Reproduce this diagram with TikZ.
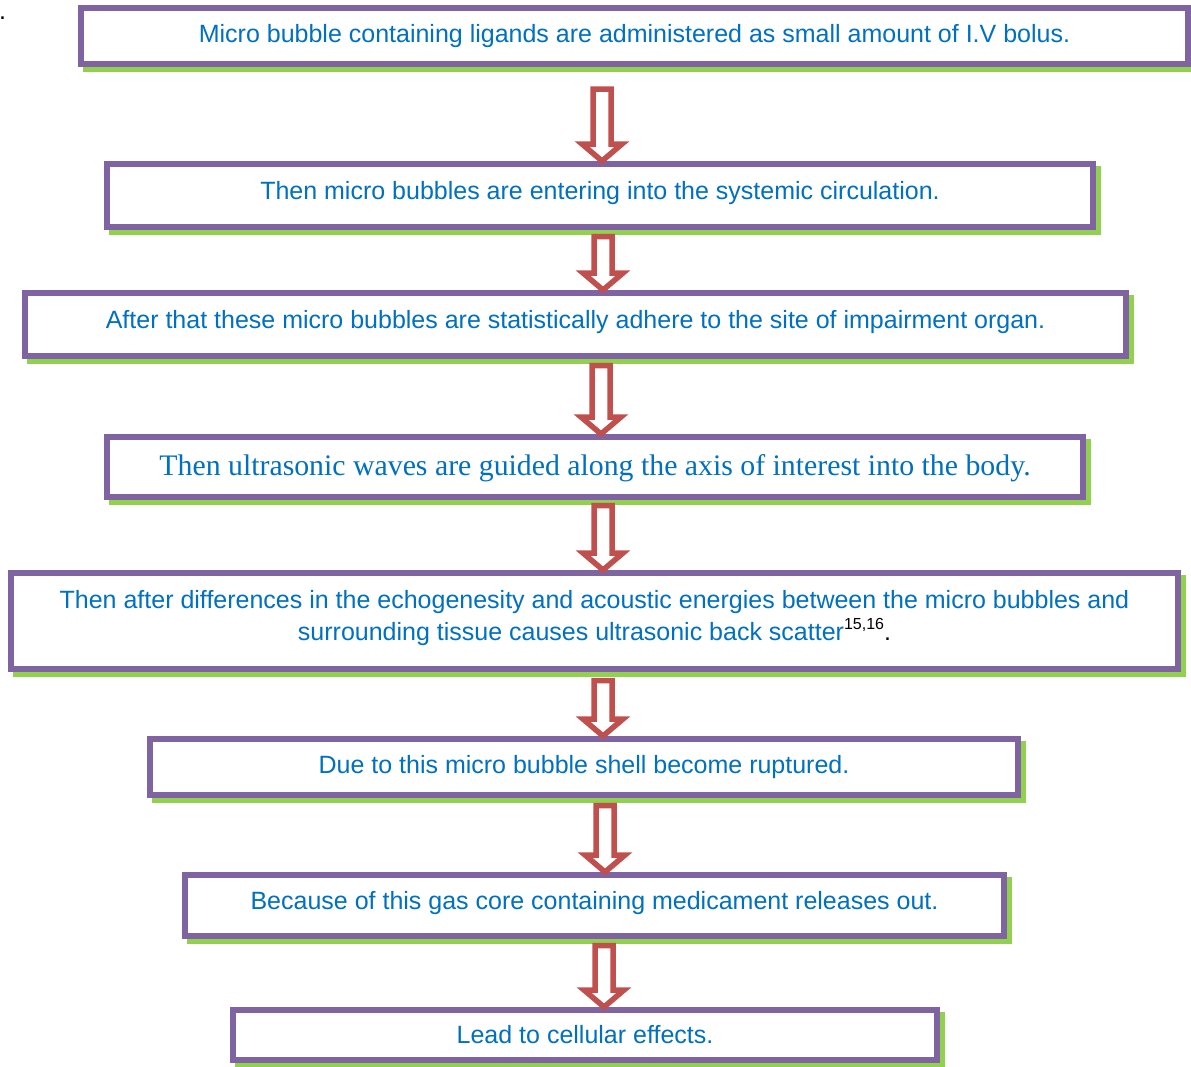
\documentclass[tikz,border=0pt]{standalone}
\usepackage{fontspec}
\setmainfont{Liberation Sans}
\newfontfamily\serifface{Liberation Serif}
\usetikzlibrary{calc,backgrounds}
\definecolor{boxpurple}{HTML}{8064A2}
\definecolor{shadowgreen}{HTML}{92D050}
\definecolor{arrowred}{HTML}{C0504D}
\definecolor{txtblue}{HTML}{0070C0}
\tikzset{
  flowbox/.style={draw=boxpurple, line width=6pt, fill=white, inner sep=0pt,
    align=center, text=txtblue, font=\fontsize{25}{32}\selectfont},
  raised/.style={text depth=11pt},
  boxshadow/.style={fill=shadowgreen},
  hollowarrow/.style={draw=arrowred, fill=white, line width=5.5pt, line join=miter, miter limit=10},
}
\newcommand\shadowof[1]{%
  \fill[boxshadow] ([shift={(5pt,-5pt)}]#1.south west) rectangle ([shift={(5pt,-5pt)}]#1.north east);}
\newcommand\hollowdown[2]{%
  \draw[hollowarrow] let \p1=(#1), \p2=(#2) in
    (\x1-9pt,\y1) -- (\x1+9pt,\y1) -- (\x1+9pt,\y2+17pt) -- (\x1+20pt,\y2+17pt)
    -- (\x1,\y2) -- (\x1-20pt,\y2+17pt) -- (\x1-9pt,\y2+17pt) -- cycle;}
\begin{document}
\begin{tikzpicture}[x=1pt,y=-1pt]
\useasboundingbox (0,0) rectangle (1191,1066);
\node[anchor=base west, inner sep=0pt, font=\fontsize{25}{25}\selectfont] (dot) at (-1,19) {.};

\node[flowbox, minimum width=1107pt, minimum height=56pt] (b1) at (634.5,36)
  {Micro bubble containing ligands are administered as small amount of I.V bolus.};
\node[flowbox, raised, minimum width=986pt, minimum height=63pt] (b2) at (600,195.5)
  {Then micro bubbles are entering into the systemic circulation.};
\node[flowbox, raised, minimum width=1101pt, minimum height=63pt] (b3) at (575.5,324.5)
  {After that these micro bubbles are statistically adhere to the site of impairment organ.};
\node[flowbox, text depth=4pt, minimum width=976pt, minimum height=60pt, font=\serifface\fontsize{29.8}{32}\selectfont] (b4) at (595,467)
  {Then ultrasonic waves are guided along the axis of interest into the body.};
\node[flowbox, raised, minimum width=1167pt, minimum height=96pt] (b5) at (594.5,621)
  {Then after differences in the echogenesity and acoustic energies between the micro bubbles and\\
   surrounding tissue causes ultrasonic back scatter\textcolor{black}{\raisebox{11pt}{\fontsize{16}{16}\selectfont 15,16}.}};
\node[flowbox, minimum width=868pt, minimum height=56pt] (b6) at (584,767)
  {Due to this micro bubble shell become ruptured.};
\node[flowbox, raised, minimum width=819pt, minimum height=61pt] (b7) at (594.5,905.5)
  {Because of this gas core containing medicament releases out.};
\node[flowbox, minimum width=704pt, minimum height=50pt] (b8) at (585,1035)
  {Lead to cellular effects.};

\begin{scope}[on background layer]
  \shadowof{b1}\shadowof{b2}\shadowof{b3}\shadowof{b4}
  \shadowof{b5}\shadowof{b6}\shadowof{b7}\shadowof{b8}
\end{scope}

\coordinate (a1) at (602,89);
\coordinate (a2) at (603,236.5);
\coordinate (a3) at (601,365.5);
\coordinate (a4) at (603,505.5);
\coordinate (a5) at (603,680.5);
\coordinate (a6) at (605,805.5);
\coordinate (a7) at (604,945.5);
\hollowdown{a1}{a1 |- b2.north}
\hollowdown{a2}{a2 |- b3.north}
\hollowdown{a3}{a3 |- b4.north}
\hollowdown{a4}{a4 |- b5.north}
\hollowdown{a5}{a5 |- b6.north}
\hollowdown{a6}{a6 |- b7.north}
\hollowdown{a7}{a7 |- b8.north}
\end{tikzpicture}
\end{document}
